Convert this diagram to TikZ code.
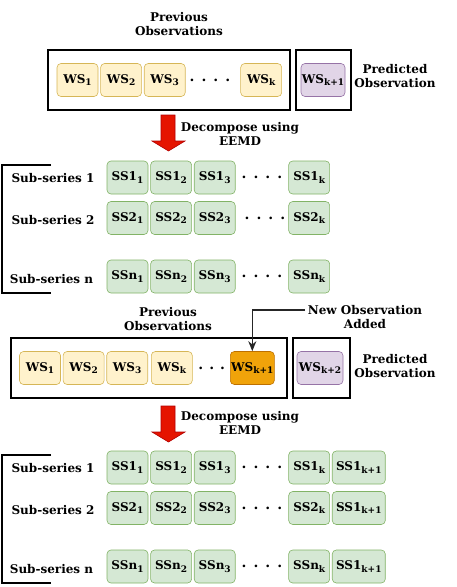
\documentclass[tikz,border=0pt]{standalone}
\usepackage{fontspec}
\setmainfont{DejaVu Serif}
\usepackage{tikz}
\usetikzlibrary{arrows.meta,positioning,calc}
\definecolor{wsfill}{HTML}{FFF2CC}
\definecolor{wsdraw}{HTML}{D6B656}
\definecolor{ssfill}{HTML}{D5E8D4}
\definecolor{ssdraw}{HTML}{82B366}
\definecolor{predfill}{HTML}{E1D5E7}
\definecolor{preddraw}{HTML}{9673A6}
\definecolor{newfill}{HTML}{F0A30A}
\definecolor{newdraw}{HTML}{BD7000}
\definecolor{redfill}{HTML}{E51400}
\definecolor{reddraw}{HTML}{B20000}
\newcommand{\idx}[1]{\raisebox{-2.5pt}{\fontsize{9}{9}\selectfont #1}}
\newcommand{\obs}[2]{WS\idx{#2}}
\newcommand{\sub}[2]{SS#1\idx{#2}}
\tikzset{
    cell/.style={
        rectangle,
        rounded corners=4pt,
        line width=0.6pt,
        minimum width=41pt,
        minimum height=33pt,
        inner sep=0pt,
        font=\bfseries\fontsize{12}{14}\selectfont,
    },
    ws/.style={cell, draw=wsdraw, fill=wsfill},
    ss/.style={cell, draw=ssdraw, fill=ssfill},
    pred/.style={cell, draw=preddraw, fill=predfill, minimum width=44pt},
    newobs/.style={cell, draw=newdraw, fill=newfill, minimum width=44pt},
    frame/.style={
        rectangle,
        draw=black,
        line width=1.8pt,
        inner sep=0pt,
    },
    lbl/.style={
        align=center,
        inner sep=0pt,
        font=\bfseries\fontsize{12}{14}\selectfont,
    },
    gap/.style={
        minimum width=40pt,
        inner sep=0pt,
        font=\bfseries\fontsize{14}{14}\selectfont,
    },
    decomp/.style={
        draw=reddraw,
        fill=redfill,
        line width=0.6pt,
    },
    bracket/.style={
        draw=black,
        line width=1.4pt,
    },
    pointer/.style={
        draw=black!85,
        line width=1.4pt,
        -{Stealth[length=10pt,width=8pt]},
    },
  }
\newcommand{\gapdots}{.\hspace{7pt}.\hspace{7pt}.\hspace{7pt}.}

\begin{document}
\begin{tikzpicture}[x=1pt,y=-1pt]
  \useasboundingbox (0,0) rectangle (457,587);

  % ---- first window
  \node [lbl] (prev1) at (179,24) {Previous\\Observations};
  \node [frame,minimum width=242pt,minimum height=60pt] (win1) at (169,80) {};
  \node [frame,minimum width=55pt,minimum height=60pt] (fut1) at (323.5,80) {};
  \node [ws] (w1) at (77.5,80) {\obs{}{1}};
  \node [ws,right=2pt of w1] (w2) {\obs{}{2}};
  \node [ws,right=2pt of w2] (w3) {\obs{}{3}};
  \node [gap,right=4pt of w3] (wdots) {\gapdots};
  \node [ws,right=10pt of wdots] (wk) {\obs{}{k}};
  \node [pred] (wk1) at (323,80) {\obs{}{k+1}};
  \node [lbl] (pred1) at (395,76) {Predicted\\Observation};

  \draw [decomp] (161,115) -- (175,115) -- (175,141) -- (185,141) -- (168.5,151)
                 -- (152,141) -- (161,141) -- cycle;
  \node [lbl] (eemd1) at (240,134) {Decompose using\\EEMD};

  % ---- sub-series of first window
  \draw [bracket] (51,165) -- (2,165) -- (2,293) -- (51,293);
  \node [lbl] (sa1) at (53,178) {Sub-series 1};
  \node [lbl] (sa2) at (53,220) {Sub-series 2};
  \node [lbl] (san) at (51.5,279) {Sub-series n};

  \node [ss] (a11) at (127.5,177.5) {\sub{1}{1}};
  \node [ss,right=2pt of a11] (a12) {\sub{1}{2}};
  \node [ss,right=2pt of a12] (a13) {\sub{1}{3}};
  \node [gap,right=6pt of a13] (a1dots) {\gapdots};
  \node [ss,right=6pt of a1dots] (a1k) {\sub{1}{k}};

  \node [ss] (a21) at (127.5,218) {\sub{2}{1}};
  \node [ss,right=2pt of a21] (a22) {\sub{2}{2}};
  \node [ss,right=2pt of a22] (a23) {\sub{2}{3}};
  \node [gap,right=9pt of a23] (a2dots) {\gapdots};
  \node [ss,right=3pt of a2dots] (a2k) {\sub{2}{k}};

  \node [ss] (an1) at (127.5,276.5) {\sub{n}{1}};
  \node [ss,right=2pt of an1] (an2) {\sub{n}{2}};
  \node [ss,right=2pt of an2] (an3) {\sub{n}{3}};
  \node [gap,right=6pt of an3] (andots) {\gapdots};
  \node [ss,right=6pt of andots] (ank) {\sub{n}{k}};

  % ---- second window
  \node [lbl] (prev2) at (168,319) {Previous\\Observations};
  \node [lbl] (added) at (365,317) {New Observation\\Added};
  \node [frame,minimum width=276pt,minimum height=60pt] (win2) at (149,368) {};
  \node [frame,minimum width=57pt,minimum height=60pt] (fut2) at (321.5,368) {};
  \node [ws] (v1) at (40,368) {\obs{}{1}};
  \node [ws,right=2pt of v1] (v2) {\obs{}{2}};
  \node [ws,right=2pt of v2] (v3) {\obs{}{3}};
  \node [ws,right=3pt of v3] (vk) {\obs{}{k}};
  \node [gap,minimum width=30pt,right=4pt of vk] (vdots) {.\hspace{6pt}.\hspace{6pt}.};
  \node [newobs,right=3pt of vdots] (vk1) {\obs{}{k+1}};
  \node [pred,minimum width=46pt] (vk2) at (320,368) {\obs{}{k+2}};
  \node [lbl] (pred2) at (395,366) {Predicted\\Observation};

  \coordinate (addedtail) at (305,310);
  \draw [pointer] (addedtail) -| (vk1.north);

  \draw [decomp] (161,406) -- (175,406) -- (175,432) -- (185,432) -- (168.5,442)
                 -- (152,432) -- (161,432) -- cycle;
  \node [lbl] (eemd2) at (240,423) {Decompose using\\EEMD};

  % ---- sub-series of second window
  \draw [bracket] (51,455) -- (2,455) -- (2,583) -- (51,583);
  \node [lbl] (sb1) at (53,468) {Sub-series 1};
  \node [lbl] (sb2) at (53,510) {Sub-series 2};
  \node [lbl] (sbn) at (51.5,569) {Sub-series n};

  \node [ss] (b11) at (127.5,467.5) {\sub{1}{1}};
  \node [ss,right=2pt of b11] (b12) {\sub{1}{2}};
  \node [ss,right=2pt of b12] (b13) {\sub{1}{3}};
  \node [gap,right=6pt of b13] (b1dots) {\gapdots};
  \node [ss,right=6pt of b1dots] (b1k) {\sub{1}{k}};
  \node [ss,minimum width=53pt,right=2pt of b1k] (b1k1) {\sub{1}{k+1}};

  \node [ss] (b21) at (127.5,508) {\sub{2}{1}};
  \node [ss,right=2pt of b21] (b22) {\sub{2}{2}};
  \node [ss,right=2pt of b22] (b23) {\sub{2}{3}};
  \node [gap,right=6pt of b23] (b2dots) {\gapdots};
  \node [ss,right=6pt of b2dots] (b2k) {\sub{2}{k}};
  \node [ss,minimum width=53pt,right=2pt of b2k] (b2k1) {\sub{1}{k+1}};

  \node [ss] (bn1) at (127.5,566.5) {\sub{n}{1}};
  \node [ss,right=2pt of bn1] (bn2) {\sub{n}{2}};
  \node [ss,right=2pt of bn2] (bn3) {\sub{n}{3}};
  \node [gap,right=6pt of bn3] (bndots) {\gapdots};
  \node [ss,right=6pt of bndots] (bnk) {\sub{n}{k}};
  \node [ss,minimum width=53pt,right=2pt of bnk] (bnk1) {\sub{1}{k+1}};
\end{tikzpicture}
\end{document}
